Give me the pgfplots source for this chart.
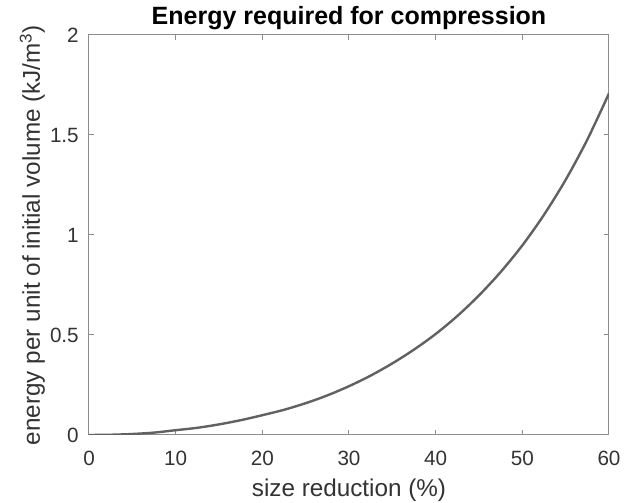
\documentclass[border=0pt]{standalone}
\usepackage{fontspec}
\setmainfont{Liberation Sans}
\usepackage{pgfplots}
\pgfplotsset{compat=1.18}

\definecolor{axisgray}{gray}{0.55}
\definecolor{labelgray}{gray}{0.2}
\definecolor{curvegray}{gray}{0.38}

\begin{document}
\begin{tikzpicture}
  \begin{axis}[
    at={(0,0)}, anchor=south west,
    scale only axis,
    width=390pt, height=300pt,
    xmin=0, xmax=60, ymin=0, ymax=2,
    xtick={0,10,...,60},
    ytick={0,0.5,1,1.5,2},
    tick align=inside,
    major tick length=4pt,
    axis line style={axisgray, line width=0.75pt},
    every tick/.style={axisgray, line width=0.75pt},
    /pgf/number format/assume math mode=true,
    tick label style={font=\fontsize{15.5}{18}\selectfont, text=labelgray},
    xticklabel style={anchor=base, inner sep=0pt, yshift=-23pt},
    yticklabel style={anchor=east, inner sep=0pt, xshift=-7.5pt},
    label style={font=\fontsize{18.2}{21}\selectfont, text=labelgray},
    xlabel={size reduction (\%)},
    xlabel style={at={(axis description cs:0.5,0)}, anchor=base, yshift=-46.5pt},
    ylabel={energy per unit of initial volume (kJ/m\textsuperscript{3})},
    ylabel style={at={(axis description cs:0,0.5)}, anchor=base, yshift=36.75pt},
    title={Energy required for compression},
    title style={at={(axis description cs:0.5,1)}, anchor=base, yshift=1.5pt,
      font=\fontsize{18.75}{22}\selectfont\bfseries},
  ]
    \addplot[curvegray, line width=1.8pt, smooth] coordinates {
      (0, 0)
      (2.5, 0.0012)
      (5, 0.005)
      (7.5, 0.012)
      (10, 0.024)
      (12.5, 0.036)
      (15, 0.053)
      (17.5, 0.074)
      (20, 0.099)
      (22.5, 0.126)
      (25, 0.159)
      (27.5, 0.198)
      (30, 0.244)
      (32.5, 0.297)
      (35, 0.358)
      (37.5, 0.427)
      (40, 0.505)
      (42.5, 0.595)
      (45, 0.698)
      (47.5, 0.815)
      (50, 0.948)
      (52.5, 1.101)
      (55, 1.276)
      (57.5, 1.477)
      (60, 1.708)
    };
  \end{axis}
  \pgfresetboundingbox
  \path[use as bounding box] (-66.75pt,-51pt) rectangle (407.25pt,326.25pt);
\end{tikzpicture}
\end{document}
